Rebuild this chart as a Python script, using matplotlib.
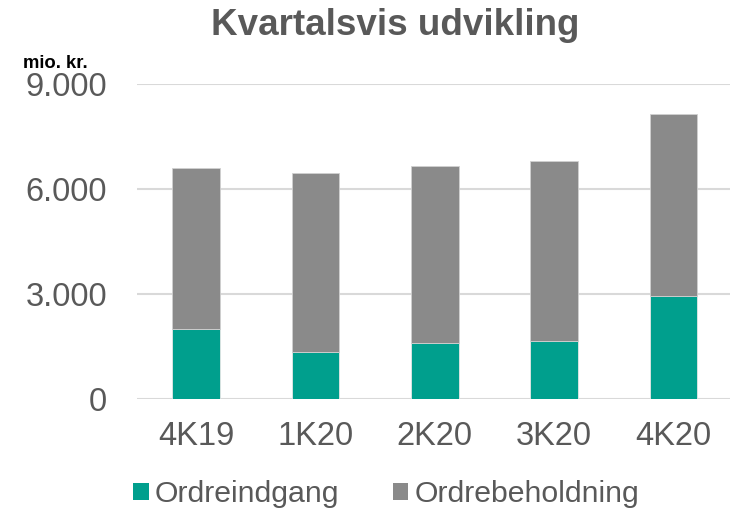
import matplotlib
matplotlib.use("Agg")
import matplotlib.pyplot as plt
from matplotlib.ticker import FuncFormatter
from matplotlib.patches import Patch

# data (mio. kr.)
quarters = ["4K19", "1K20", "2K20", "3K20", "4K20"]
ordreindgang = [2000, 1330, 1580, 1640, 2940]
ordrebeholdning_total = [6600, 6450, 6650, 6790, 8150]
ordrebeholdning = [t - o for t, o in zip(ordrebeholdning_total, ordreindgang)]

TEAL = "#009F8D"
GREY = "#8A8A8A"
TXT = "#595959"

plt.rcParams["font.family"] = ["Liberation Sans", "DejaVu Sans"]

fig = plt.figure(figsize=(7.3, 5.12), dpi=100)
ax = fig.add_axes([0.187, 0.2213, 0.8174, 0.615])

x = range(len(quarters))
ax.bar(x, ordreindgang, width=0.4, color=TEAL, edgecolor="#e6e6e6", linewidth=0.6, zorder=3)
ax.bar(x, ordrebeholdning, width=0.4, bottom=ordreindgang, color=GREY,
       edgecolor="#d0d0d0", linewidth=0.6, zorder=3)

ax.set_xlim(-0.5, len(quarters) - 0.5)
ax.set_ylim(0, 9000)
ax.set_yticks([0, 3000, 6000, 9000])
ax.yaxis.set_major_formatter(FuncFormatter(lambda v, _: f"{int(v):,}".replace(",", ".")))
ax.set_xticks(list(x))
ax.set_xticklabels(quarters)

ax.grid(axis="y", color="#D9D9D9", linewidth=1.5, zorder=0)
for s in ["top", "right", "left", "bottom"]:
    ax.spines[s].set_visible(False)
ax.tick_params(axis="both", length=0, labelsize=23.5, labelcolor=TXT)
ax.tick_params(axis="y", pad=21)
ax.tick_params(axis="x", pad=16)

fig.text(0.542, 0.9316, "Kvartalsvis udvikling", ha="center", va="baseline",
         fontsize=26.5, fontweight="bold", color=TXT)
fig.text(0.031, 0.868, "mio. kr.", ha="left", va="baseline",
         fontsize=13.3, fontweight="bold", color="black")

handles = [Patch(facecolor=TEAL, label="Ordreindgang"),
           Patch(facecolor=GREY, label="Ordrebeholdning")]
leg = fig.legend(handles=handles, loc="center", bbox_to_anchor=(0.529, 0.035), ncol=2,
                 frameon=False, fontsize=21.8, handlelength=0.51, handleheight=0.5,
                 handletextpad=0.21, columnspacing=1.75, borderaxespad=0,
                 borderpad=0)
for t in leg.get_texts():
    t.set_color(TXT)

fig.savefig("out.png", dpi=100)
